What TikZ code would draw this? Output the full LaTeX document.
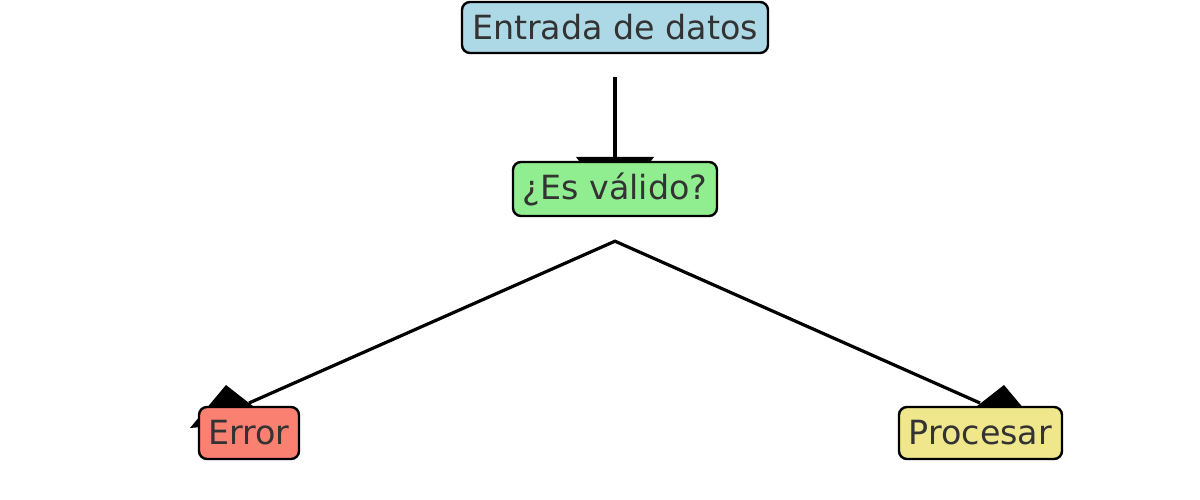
\documentclass[tikz,border=0pt]{standalone}
\usepackage{fontspec}
\setmainfont{DejaVu Sans}
\usetikzlibrary{calc}
\pgfdeclarelayer{background}
\pgfsetlayers{background,main}
\definecolor{txtgray}{HTML}{333333}
\definecolor{boxblue}{HTML}{ADD8E6}
\definecolor{boxgreen}{HTML}{90EE90}
\definecolor{boxsalmon}{HTML}{FA8072}
\definecolor{boxkhaki}{HTML}{F0E68C}
\tikzset{
  flowbox/.style={draw=black, line width=2.4pt, rounded corners=8pt, text=txtgray,
    font=\fontsize{33.3}{40}\selectfont, inner sep=0pt, align=center},
  conn/.style={draw=black, line width=3.4pt},
  headfill/.style={fill=black, draw=none}
}
\begin{document}
\begin{tikzpicture}[x=1pt,y=-1pt]
\useasboundingbox (0,0) rectangle (1200,500);
\node[flowbox, fill=boxblue, minimum width=306pt, minimum height=51pt] (entrada) at (615,27.5) {Entrada de datos};
\node[flowbox, fill=boxgreen, minimum width=204pt, minimum height=54pt] (valido) at (615,189) {¿Es válido?};
\node[flowbox, fill=boxsalmon, minimum width=100pt, minimum height=52pt] (error) at (249,433) {Error};
\node[flowbox, fill=boxkhaki, minimum width=163pt, minimum height=52pt] (procesar) at (980.5,433) {Procesar};
\coordinate (vstart) at ($(entrada.south)+(0,23)$);
\coordinate (vend) at (615,157);
\coordinate (split) at ($(valido.south)+(0,24)$);
\coordinate (eend) at (249,403);
\coordinate (pend) at (980,403);
\begin{pgfonlayer}{background}
  \draw[conn] (vstart) -- (vend);
  \fill[headfill] (576,157) -- (654,157) -- (615,208) -- cycle;
  \draw[conn, line width=3.2pt, line join=miter] (eend) -- (split) -- (pend);
  \fill[headfill] (226,385) -- (190,428) -- (272,421) -- cycle;
  \fill[headfill] (1004,385) -- (1040,428) -- (958,421) -- cycle;
\end{pgfonlayer}
\end{tikzpicture}
\end{document}
